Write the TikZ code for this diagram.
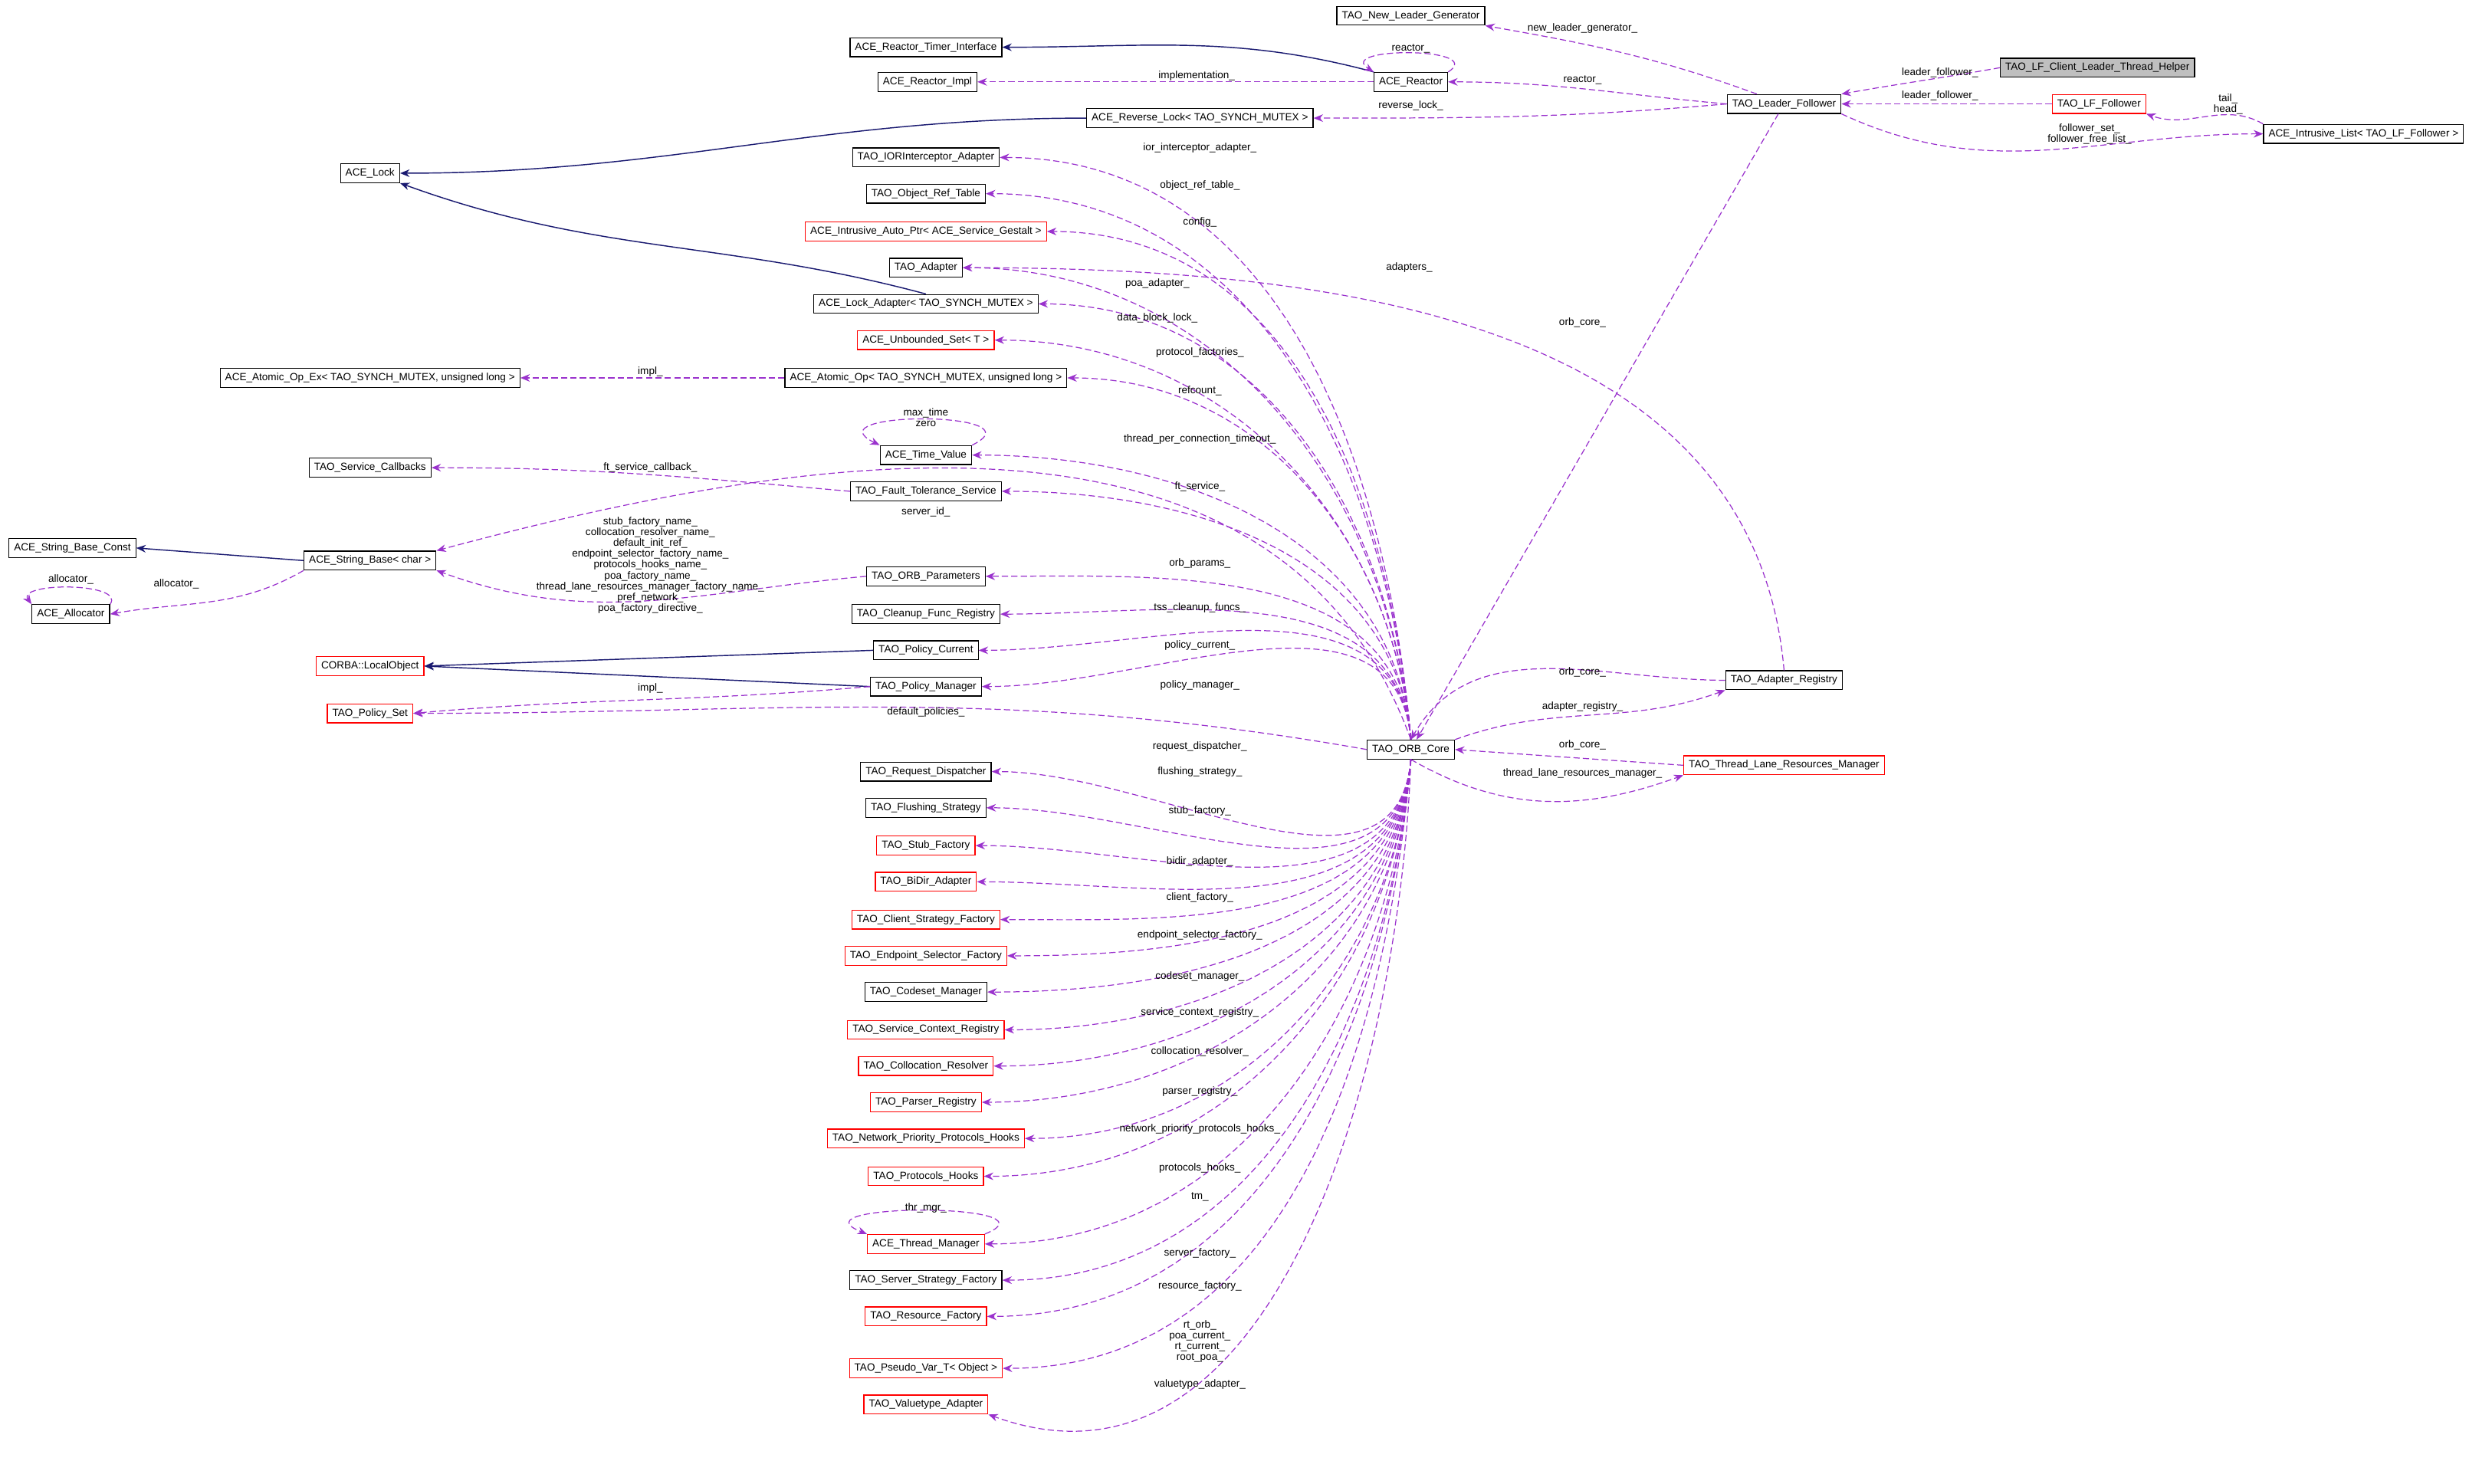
\documentclass[tikz,border=0pt]{standalone}
\usepackage{fontspec}
\setmainfont{Liberation Sans}
\usetikzlibrary{arrows.meta}
\definecolor{dep}{HTML}{9A32CD}
\definecolor{inh}{HTML}{191970}
\newcommand{\gf}{\fontsize{3.3}{3.45}\selectfont}
\tikzset{
 box/.style={draw=black,fill=white,line width=0.3pt,inner xsep=1.6pt,inner ysep=0pt,minimum height=6pt,font=\gf},
 rbox/.style={box,draw=red},
 lab/.style={font=\gf,align=center,inner sep=0pt},
 dep/.style={draw=dep,dashed,dash pattern=on 2pt off 1pt,line width=0.3pt,-{Stealth[length=3pt,width=2.4pt]}},
 inh/.style={draw=inh,line width=0.35pt,-{Stealth[length=3pt,width=2.4pt]}},
}
\begin{document}
\begin{tikzpicture}[x=0.5pt,y=-0.5pt]
\useasboundingbox (0,0) rectangle (1568,942);
% nodes
\node[box] (nlg) at (896,10) {TAO\_New\_Leader\_Generator};
\node[box,fill=black!25] (help) at (1332,43) {TAO\_LF\_Client\_Leader\_Thread\_Helper};
\node[box] (rti) at (588,30) {ACE\_Reactor\_Timer\_Interface};
\node[box] (rimpl) at (589,52) {ACE\_Reactor\_Impl};
\node[box] (reac) at (896,52) {ACE\_Reactor};
\node[box] (lf) at (1133,66) {TAO\_Leader\_Follower};
\node[rbox] (lff) at (1333,66) {TAO\_LF\_Follower};
\node[box] (il) at (1501,85) {ACE\_Intrusive\_List< TAO\_LF\_Follower >};
\node[box] (rl) at (762,75) {ACE\_Reverse\_Lock< TAO\_SYNCH\_MUTEX >};
\node[box] (lock) at (235,110) {ACE\_Lock};
\node[box] (ior) at (588,100) {TAO\_IORInterceptor\_Adapter};
\node[box] (ort) at (588,123) {TAO\_Object\_Ref\_Table};
\node[rbox] (iap) at (588,147) {ACE\_Intrusive\_Auto\_Ptr< ACE\_Service\_Gestalt >};
\node[box] (ad) at (588,170) {TAO\_Adapter};
\node[box] (la) at (588,193) {ACE\_Lock\_Adapter< TAO\_SYNCH\_MUTEX >};
\node[rbox] (us) at (588,216) {ACE\_Unbounded\_Set< T >};
\node[box] (aoe) at (235,240) {ACE\_Atomic\_Op\_Ex< TAO\_SYNCH\_MUTEX, unsigned long >};
\node[box] (ao) at (588,240) {ACE\_Atomic\_Op< TAO\_SYNCH\_MUTEX, unsigned long >};
\node[box] (tv) at (588,289) {ACE\_Time\_Value};
\node[box] (sc) at (235,297) {TAO\_Service\_Callbacks};
\node[box] (ft) at (588,312) {TAO\_Fault\_Tolerance\_Service};
\node[box] (sbc) at (46,348) {ACE\_String\_Base\_Const};
\node[box] (sb) at (235,356) {ACE\_String\_Base< char >};
\node[box] (alloc) at (45,390) {ACE\_Allocator};
\node[box] (op) at (588,366) {TAO\_ORB\_Parameters};
\node[box] (cfr) at (588,390) {TAO\_Cleanup\_Func\_Registry};
\node[box] (pc) at (588,413) {TAO\_Policy\_Current};
\node[rbox] (lo) at (235,423) {CORBA::LocalObject};
\node[box] (pm) at (588,436) {TAO\_Policy\_Manager};
\node[rbox] (ps) at (235,453) {TAO\_Policy\_Set};
\node[box] (o) at (896,476) {TAO\_ORB\_Core};
\node[box] (ar) at (1133,432) {TAO\_Adapter\_Registry};
\node[rbox] (tl) at (1133,486) {TAO\_Thread\_Lane\_Resources\_Manager};
\node[box] (rd) at (588,490) {TAO\_Request\_Dispatcher};
\node[box] (fs) at (588,513) {TAO\_Flushing\_Strategy};
\node[rbox] (sf) at (588,537) {TAO\_Stub\_Factory};
\node[rbox] (bd) at (588,560) {TAO\_BiDir\_Adapter};
\node[rbox] (csf) at (588,584) {TAO\_Client\_Strategy\_Factory};
\node[rbox] (esf) at (588,607) {TAO\_Endpoint\_Selector\_Factory};
\node[box] (cm) at (588,630) {TAO\_Codeset\_Manager};
\node[rbox] (scr) at (588,654) {TAO\_Service\_Context\_Registry};
\node[rbox] (cr) at (588,677) {TAO\_Collocation\_Resolver};
\node[rbox] (pr) at (588,700) {TAO\_Parser\_Registry};
\node[rbox] (npph) at (588,723) {TAO\_Network\_Priority\_Protocols\_Hooks};
\node[rbox] (ph) at (588,747) {TAO\_Protocols\_Hooks};
\node[rbox] (tm) at (588,790) {ACE\_Thread\_Manager};
\node[box] (ssf) at (588,813) {TAO\_Server\_Strategy\_Factory};
\node[rbox] (rf) at (588,836) {TAO\_Resource\_Factory};
\node[rbox] (pv) at (588,869) {TAO\_Pseudo\_Var\_T< Object >};
\node[rbox] (va) at (588,892) {TAO\_Valuetype\_Adapter};
% inheritance
\draw[inh] (reac) to[out=165,in=0] (rti.east);
\draw[inh] (rl.west) to[out=180,in=0] (lock.east);
\draw[inh] (la.north) to[out=165,in=-20] (lock.south east);
\draw[inh] (sb.west) -- (sbc.east);
\draw[inh] (pc.west) -- (lo.east);
\draw[inh] (pm.west) -- (lo.east);
% top deps
\draw[dep] (lf) to[out=160,in=-10] (nlg.south east);
\draw[dep] (help.west) to[out=190,in=10] (lf.north east);
\draw[dep] (lff.west) -- (lf.east);
\draw[dep] (lf.west) to[out=175,in=0] (reac.east);
\draw[dep] (reac.north east) .. controls +(25,-16) and +(-25,-16) .. (reac.north west);
\draw[dep] (reac.west) -- (rimpl.east);
\draw[dep] (lf.west) to[out=185,in=0] (rl.east);
\draw[dep] (il.north west) to[out=150,in=-20] (lff.south east);
\draw[dep] (lf.south east) to[out=-25,in=180] (il.west);
\draw[dep] (lf) -- (o);
\draw[dep] (ar.north) to[out=95,in=0] (ad.east);
\draw[dep] (ar.west) to[out=180,in=60] (o.north);
\draw[dep] (o.north east) to[out=20,in=-160] (ar.south west);
\draw[dep] (tl.west) -- (o.east);
\draw[dep] (o.south) to[out=-30,in=-160] (tl.south west);
% left deps
\draw[dep] (ao.west) -- (aoe.east);
\draw[dep] (tv.north east) .. controls +(45,-22) and +(-45,-22) .. (tv.north west);
\draw[dep] (ft.west) to[out=175,in=0] (sc.east);
\draw[dep] (o.north) to[out=110,in=15] (sb.north east);
\draw[dep] (op.west) to[out=185,in=-20] (sb.south east);
\draw[dep] (sb.south west) to[out=-150,in=10] (alloc.east);
\draw[dep] (alloc.north east) .. controls +(10,-14) and +(-10,-14) .. (alloc.north west);
\draw[dep] (pm.west) to[out=185,in=5] (ps.east);
\draw[dep] (o.west) to[out=170,in=0] (ps.east);
\draw[dep] (tm.north east) .. controls +(50,-20) and +(-50,-20) .. (tm.north west);
\foreach \n in {ior,ort,iap,ad,la,us,ao,tv,ft,op,cfr,pc,pm}
  \draw[dep] (o.north) to[out=95,in=0] (\n.east);
\foreach \n in {rd,fs,sf,bd,csf,esf,cm,scr,cr,pr,npph,ph,tm,ssf,rf,pv}
  \draw[dep] (o.south) to[out=-95,in=0] (\n.east);
\draw[dep] (o.south) to[out=-92,in=-20] (va.south east);
% labels
\node[lab] at (1005,18) {new\_leader\_generator\_};
\node[lab] at (1232,46) {leader\_follower\_};
\node[lab] at (1232,61) {leader\_follower\_};
\node[lab] at (1005,51) {reactor\_};
\node[lab] at (896,31) {reactor\_};
\node[lab] at (760,48) {implementation\_};
\node[lab] at (896,67) {reverse\_lock\_};
\node[lab] at (1415,66) {tail\_\\head\_};
\node[lab] at (1327,85) {follower\_set\_\\follower\_free\_list\_};
\node[lab] at (1005,205) {orb\_core\_};
\node[lab] at (895,170) {adapters\_};
\node[lab] at (1005,427) {orb\_core\_};
\node[lab] at (1005,449) {adapter\_registry\_};
\node[lab] at (1005,473) {orb\_core\_};
\node[lab] at (1005,491) {thread\_lane\_resources\_manager\_};
\node[lab] at (413,236) {impl\_};
\node[lab] at (588,265) {max\_time\\zero};
\node[lab] at (413,297) {ft\_service\_callback\_};
\node[lab] at (588,325) {server\_id\_};
\node[lab] at (413,359) {stub\_factory\_name\_\\collocation\_resolver\_name\_\\default\_init\_ref\_\\endpoint\_selector\_factory\_name\_\\protocols\_hooks\_name\_\\poa\_factory\_name\_\\thread\_lane\_resources\_manager\_factory\_name\_\\pref\_network\_\\poa\_factory\_directive\_};
\node[lab] at (112,371) {allocator\_};
\node[lab] at (45,368) {allocator\_};
\node[lab] at (413,437) {impl\_};
\node[lab] at (588,452) {default\_policies\_};
\node[lab] at (588,767) {thr\_mgr\_};
\node[lab] at (762,94) {ior\_interceptor\_adapter\_};
\node[lab] at (762,118) {object\_ref\_table\_};
\node[lab] at (762,141) {config\_};
\node[lab] at (735,180) {poa\_adapter\_};
\node[lab] at (735,202) {data\_block\_lock\_};
\node[lab] at (762,224) {protocol\_factories\_};
\node[lab] at (762,248) {refcount\_};
\node[lab] at (762,279) {thread\_per\_connection\_timeout\_};
\node[lab] at (762,309) {ft\_service\_};
\node[lab] at (762,358) {orb\_params\_};
\node[lab] at (762,386) {tss\_cleanup\_funcs\_};
\node[lab] at (762,410) {policy\_current\_};
\node[lab] at (762,435) {policy\_manager\_};
\node[lab] at (762,474) {request\_dispatcher\_};
\node[lab] at (762,490) {flushing\_strategy\_};
\node[lab] at (762,515) {stub\_factory\_};
\node[lab] at (762,547) {bidir\_adapter\_};
\node[lab] at (762,570) {client\_factory\_};
\node[lab] at (762,594) {endpoint\_selector\_factory\_};
\node[lab] at (762,620) {codeset\_manager\_};
\node[lab] at (762,643) {service\_context\_registry\_};
\node[lab] at (762,668) {collocation\_resolver\_};
\node[lab] at (762,693) {parser\_registry\_};
\node[lab] at (762,717) {network\_priority\_protocols\_hooks\_};
\node[lab] at (762,742) {protocols\_hooks\_};
\node[lab] at (762,760) {tm\_};
\node[lab] at (762,796) {server\_factory\_};
\node[lab] at (762,817) {resource\_factory\_};
\node[lab] at (762,852) {rt\_orb\_\\poa\_current\_\\rt\_current\_\\root\_poa\_};
\node[lab] at (762,879) {valuetype\_adapter\_};
\end{tikzpicture}
\end{document}
